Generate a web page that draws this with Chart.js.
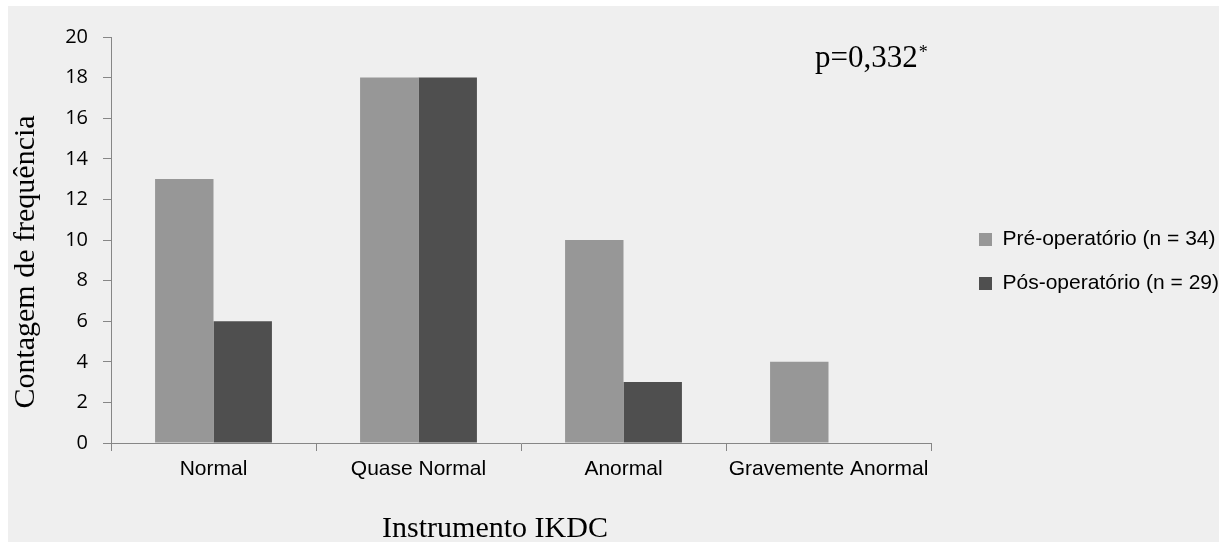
<!DOCTYPE html>
<html>
<head>
<meta charset="utf-8">
<script src="https://cdn.jsdelivr.net/npm/chart.js@4"></script>
<style>
  body { margin: 0; background: #ffffff; }
  #fundo { position: absolute; left: 8px; top: 6px; width: 1211px; height: 536px; background: #efefef; }
</style>
</head>
<body>
<div id="fundo"><canvas id="myChart" width="1211" height="536"></canvas></div>
<script>
// dados
const categorias = ["Normal", "Quase Normal", "Anormal", "Gravemente Anormal"];
const preOperatorio = [13, 18, 10, 4];
const posOperatorio = [6, 18, 3, 0];
const nomesSeries = ["Pré-operatório (n = 34)", "Pós-operatório (n = 29)"];
const tituloX = "Instrumento IKDC";
const tituloY = "Contagem de frequência";
const textoP = "p=0,332";

const corEixo = "#868686";

// textos soltos: titulos dos eixos e valor de p
const textosExtra = {
  id: "textosExtra",
  afterDraw(chart) {
    const ctx = chart.ctx;
    ctx.save();
    ctx.fillStyle = "#000";
    ctx.font = "30px 'Liberation Serif'";
    ctx.textBaseline = "alphabetic";

    ctx.textAlign = "center";
    ctx.fillText(tituloX, 487, 531);

    ctx.save();
    ctx.translate(26, 256);
    ctx.rotate(-Math.PI / 2);
    ctx.fillText(tituloY, 0, 0);
    ctx.restore();

    ctx.textAlign = "left";
    ctx.font = "31px 'Liberation Serif'";
    ctx.fillText(textoP, 807, 61);
    let w = ctx.measureText(textoP).width;
    ctx.font = "18px 'Liberation Serif'";
    ctx.fillText("*", 807 + w + 1, 52);
    ctx.restore();
  },
};

const ctx = document.getElementById("myChart").getContext("2d");
const myChart = new Chart(ctx, {
  type: "bar",
  data: {
    labels: categorias,
    datasets: [
      {
        label: nomesSeries[0],
        data: preOperatorio,
        backgroundColor: "#979797",
        borderWidth: 0,
      },
      {
        label: nomesSeries[1],
        data: posOperatorio,
        backgroundColor: "#4f4f4f",
        borderWidth: 0,
      },
    ],
  },
  options: {
    responsive: false,
    animation: false,
    layout: {
      padding: { top: 31, left: 0, right: 0, bottom: 0 },
    },
    datasets: {
      bar: { categoryPercentage: 0.57, barPercentage: 1 },
    },
    plugins: {
      tooltip: { enabled: false },
      legend: {
        position: "right",
        fullSize: false,
        maxWidth: 263,
        title: { display: true, text: "", padding: 0, font: { size: 43, lineHeight: 1 } },
        labels: {
          boxWidth: 13,
          boxHeight: 13,
          padding: 23,
          color: "#000",
          font: { family: "'Liberation Sans'", size: 21 },
        },
      },
    },
    scales: {
      x: {
        afterFit: (s) => { s.height = 99; },
        grid: { drawOnChartArea: false, drawTicks: true, tickLength: 8, color: corEixo },
        border: { display: true, color: corEixo },
        ticks: {
          color: "#000",
          padding: 6,
          maxRotation: 0,
          minRotation: 0,
          autoSkip: false,
          font: { family: "'Liberation Sans'", size: 21 },
        },
      },
      y: {
        min: 0,
        max: 20,
        afterFit: (s) => { s.width = 103; },
        grid: { drawOnChartArea: false, drawTicks: true, tickLength: 8, color: corEixo },
        border: { display: true, color: corEixo },
        ticks: { stepSize: 2, color: "#000", padding: 15, font: { family: "'Open Sans'", size: 20 } },
      },
      // eixo vazio so para afastar a legenda da area do grafico
      espaco: {
        type: "linear",
        position: "right",
        afterFit: (s) => { s.width = 25; },
        grid: { display: false },
        border: { display: false },
        ticks: { display: false },
      },
    },
  },
  plugins: [textosExtra],
});
</script>
</body>
</html>
